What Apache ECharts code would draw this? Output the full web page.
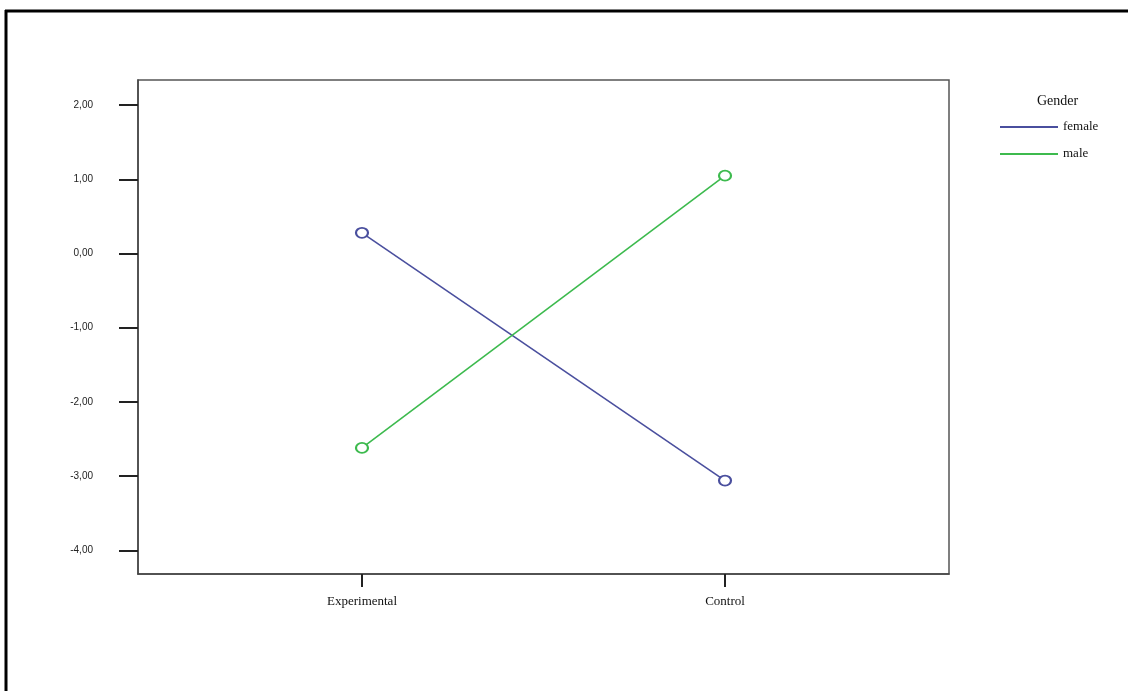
<!DOCTYPE html>
<html>
<head>
<meta charset="utf-8">
<script src="https://cdn.jsdelivr.net/npm/echarts@6/dist/echarts.min.js"></script>
<style>
  html, body { margin: 0; padding: 0; background: #fff; }
  #chart { width: 1128px; height: 691px; }
</style>
</head>
<body>
<div id="chart"></div>
<script>
// data
const categories = ["Experimental", "Control"];
const femaleValues = [0.28, -3.06];
const maleValues = [-2.62, 1.05];
const yTicks = [-4, -3, -2, -1, 0, 1, 2];

const serif = "'Liberation Serif', 'DejaVu Serif', serif";
const sans = "'Liberation Sans', Arial, sans-serif";

const toPoints = (vals) => vals.map((v, i) => [i, v]);

var myChart = echarts.init(document.getElementById("chart"));
myChart.setOption({
  animation: false,
  backgroundColor: "#fff",
  title: {
    text: "Gender",
    left: 1032,
    top: 89,
    textStyle: { fontFamily: serif, fontSize: 14, fontWeight: "normal", color: "#111" },
  },
  legend: {
    orient: "vertical",
    left: 995,
    top: 115,
    itemWidth: 58,
    itemHeight: 2,
    itemGap: 13,
    icon: "rect",
    textStyle: { fontFamily: serif, fontSize: 13, color: "#111", lineHeight: 14 },
    data: ["female", "male"],
  },
  grid: {
    left: 138,
    top: 80,
    right: 179,
    bottom: 117,
    show: true,
    borderColor: "#555",
    borderWidth: 1.5,
    containLabel: false,
  },
  xAxis: {
    type: "value",
    min: -0.617,
    max: 1.617,
    splitLine: { show: false },
    axisLine: { show: true, onZero: false, lineStyle: { color: "#444", width: 1.5 } },
    axisTick: {
      show: true,
      customValues: [0, 1],
      length: 13,
      lineStyle: { color: "#222", width: 2 },
    },
    axisLabel: {
      customValues: [0, 1],
      margin: 21,
      fontFamily: serif,
      fontSize: 13,
      color: "#111",
      formatter: (v) => categories[Math.round(v)],
    },
  },
  yAxis: {
    type: "value",
    min: -4.32,
    max: 2.34,
    splitLine: { show: false },
    axisLine: { show: true, onZero: false, lineStyle: { color: "#444", width: 1.5 } },
    axisTick: {
      show: true,
      customValues: yTicks,
      length: 19,
      lineStyle: { color: "#222", width: 2 },
    },
    axisLabel: {
      customValues: yTicks,
      margin: 45,
      fontFamily: sans,
      fontSize: 10,
      color: "#222",
      formatter: (v) => v.toFixed(2).replace(".", ","),
    },
  },
  series: [
    {
      name: "female",
      type: "line",
      data: toPoints(femaleValues),
      symbol: "emptyCircle",
      symbolSize: [12, 10],
      color: "#4a4f9e",
      lineStyle: { width: 1.6, color: "#4a4f9e" },
      itemStyle: { borderWidth: 2 },
    },
    {
      name: "male",
      type: "line",
      data: toPoints(maleValues),
      symbol: "emptyCircle",
      symbolSize: [12, 10],
      color: "#3dba4e",
      lineStyle: { width: 1.6, color: "#3dba4e" },
      itemStyle: { borderWidth: 2 },
    },
  ],
  graphic: [
    { type: "line", shape: { x1: 5, y1: 11, x2: 1128, y2: 11 }, style: { stroke: "#000", lineWidth: 3 } },
    { type: "line", shape: { x1: 6, y1: 10, x2: 6, y2: 691 }, style: { stroke: "#000", lineWidth: 3 } },
  ],
});
</script>
</body>
</html>
